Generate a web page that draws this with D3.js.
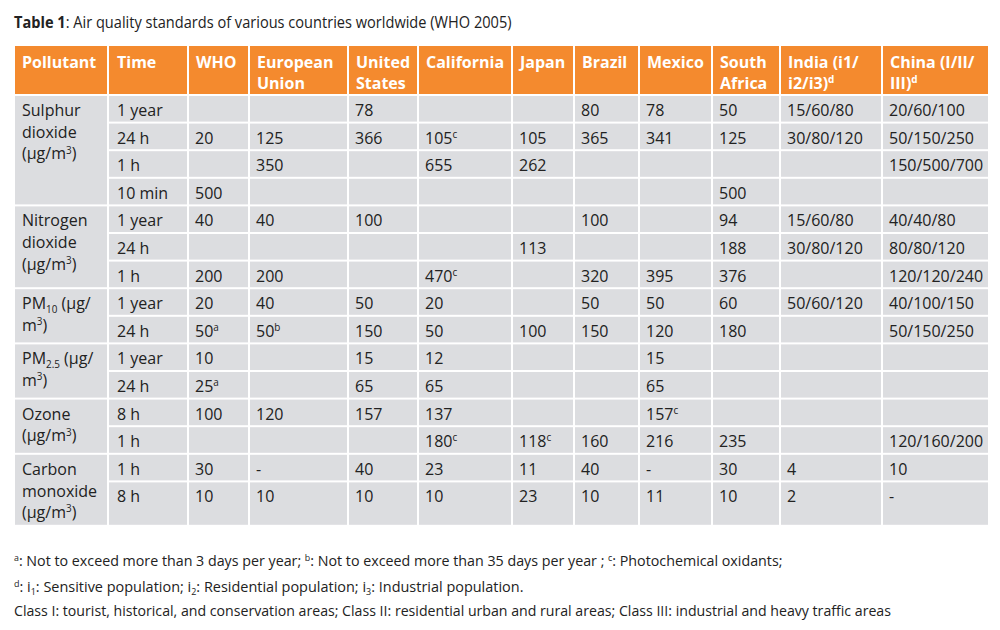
<!DOCTYPE html>
<html><head><meta charset="utf-8">
<script src="https://cdn.jsdelivr.net/npm/d3@7"></script>
<style>body{margin:0;background:#fff} svg{display:block}</style>
</head><body><svg id="c" width="1000" height="630"></svg>
<script>
// ---------- data ----------
const titleBold = "Table 1";
const titleRest = ": Air quality standards of various countries worldwide (WHO 2005)";
const headers = [["Pollutant"],["Time"],["WHO"],["European","Union"],["United","States"],["California"],["Japan"],["Brazil"],["Mexico"],["South","Africa"],["India (i1/","i2/i3)<sup>d</sup>"],["China (I/II/","III)<sup>d</sup>"]];
const pollutants = [["Sulphur","dioxide","(µg/m<sup>3</sup>)"],["Nitrogen","dioxide","(µg/m<sup>3</sup>)"],["PM<sub>10</sub> (µg/","m<sup>3</sup>)"],["PM<sub>2.5</sub> (µg/","m<sup>3</sup>)"],["Ozone","(µg/m<sup>3</sup>)"],["Carbon","monoxide","(µg/m<sup>3</sup>)"]];
const groupSizes = [4,3,2,2,2,2];
const times = ["1 year","24 h","1 h","10 min","1 year","24 h","1 h","1 year","24 h","1 year","24 h","8 h","1 h","1 h","8 h"];
const who = ["","20","","500","40","","200","20","50<sup>a</sup>","10","25<sup>a</sup>","100","","30","10"];
const eu = ["","125","350","","40","","200","40","50<sup>b</sup>","","","120","","-","10"];
const us = ["78","366","","","100","","","50","150","15","65","157","","40","10"];
const california = ["","105<sup>c</sup>","655","","","","470<sup>c</sup>","20","50","12","65","137","180<sup>c</sup>","23","10"];
const japan = ["","105","262","","","113","","","100","","","","118<sup>c</sup>","11","23"];
const brazil = ["80","365","","","100","","320","50","150","","","","160","40","10"];
const mexico = ["78","341","","","","","395","50","120","15","65","157<sup>c</sup>","216","-","11"];
const southAfrica = ["50","125","","500","94","188","376","60","180","","","","235","30","10"];
const india = ["15/60/80","30/80/120","","","15/60/80","30/80/120","","50/60/120","","","","","","4","2"];
const china = ["20/60/100","50/150/250","150/500/700","","40/40/80","80/80/120","120/120/240","40/100/150","50/150/250","","","","120/160/200","10","-"];
const footnotes = [
  "<sup>a</sup>: Not to exceed more than 3 days per year; <sup>b</sup>: Not to exceed more than 35 days per year ; <sup>c</sup>: Photochemical oxidants;",
  "<sup>d</sup>: i<sub>1</sub>: Sensitive population; i<sub>2</sub>: Residential population; i<sub>3</sub>: Industrial population.",
  "Class I: tourist, historical, and conservation areas; Class II: residential urban and rural areas; Class III: industrial and heavy traffic areas"
];

// ---------- layout ----------
const valueCols = [who, eu, us, california, japan, brazil, mexico, southAfrica, india, china];
const colWidths = [94,80,61,99,70,94,62,65,73,68,102,107];
const left = 14, headerTop = 46, headerH = 49, rowH = 27.6;
const orange = "#f48a2e", gray = "#dcdde0", ink = "#222222";
const font = "'Open Sans', sans-serif";
const fs = 16;

const starts = d3.cumsum([0, ...colWidths]).map(v => v + left);
const x = d3.scaleOrdinal().domain(d3.range(colWidths.length)).range(starts);
const wOf = i => colWidths[i];

// row heights: last row of a group stretches to fit pollutant label
const rowHeights = [];
groupSizes.forEach((n, g) => {
  const need = 21 + (pollutants[g].length - 1) * 21.7 + 7.6;
  for (let k = 0; k < n; k++) {
    let h = rowH;
    if (k === n - 1) h = Math.max(rowH, need - rowH * (n - 1));
    rowHeights.push(h);
  }
});
const rowTops = d3.cumsum([0, ...rowHeights]).map(v => v + headerTop + headerH);
const y = d3.scaleOrdinal().domain(d3.range(times.length + 1)).range(rowTops);

const svg = d3.select("#c").style("font-family", font);

function rich(sel, str, size) {
  const parts = str.split(/(<su[bp]>.*?<\/su[bp]>)/).filter(s => s.length);
  let shift = 0;
  parts.forEach(p => {
    const m = p.match(/^<(su[bp])>(.*)<\/su[bp]>$/);
    const t = sel.append("tspan");
    if (m) {
      const d = m[1] === "sup" ? -size * 0.36 : size * 0.22;
      t.attr("dy", d - shift).attr("font-size", size * 0.62).text(m[2]);
      shift = d;
    } else {
      t.attr("dy", -shift).text(p);
      shift = 0;
    }
  });
  return sel;
}

// title
const title = svg.append("text").attr("x", 0).attr("y", 0).attr("fill", ink).attr("font-size", 16.5);
title.append("tspan").attr("font-weight", "bold").text(titleBold);
title.append("tspan").text(titleRest);
{
  const w = title.node().getComputedTextLength();
  title.attr("transform", `translate(${left},28) scale(${498 / w},1)`);
}

// header
const hdr = svg.append("g");
headers.forEach((lines, i) => {
  hdr.append("rect").attr("x", x(i) + 1).attr("y", headerTop).attr("width", wOf(i) - 2).attr("height", headerH - 1).attr("fill", orange);
  lines.forEach((ln, j) => {
    const t = hdr.append("text").attr("x", x(i) + (i === 1 ? 9 : 8)).attr("y", headerTop + 22 + j * 21)
      .attr("fill", "#fff").attr("font-weight", "bold").attr("font-size", fs);
    rich(t, ln, fs);
  });
});

// body
const body = svg.append("g");
let r0 = 0;
groupSizes.forEach((n, g) => {
  const top = y(r0), bot = y(r0 + n);
  body.append("rect").attr("x", x(0) + 1).attr("y", top + 1).attr("width", wOf(0) - 2).attr("height", bot - top - 2).attr("fill", gray);
  pollutants[g].forEach((ln, j) => {
    const t = body.append("text").attr("x", x(0) + 8).attr("y", top + 21 + j * 21.7).attr("fill", ink).attr("font-size", fs);
    rich(t, ln, fs);
  });
  r0 += n;
});
const cols = [times, ...valueCols];
times.forEach((_, r) => {
  cols.forEach((arr, c) => {
    const ci = c + 1;
    body.append("rect").attr("x", x(ci) + 1).attr("y", y(r) + 1).attr("width", wOf(ci) - 2).attr("height", y(r + 1) - y(r) - 2).attr("fill", gray);
    if (arr[r]) {
      const t = body.append("text").attr("x", x(ci) + (ci === 1 ? 9 : 7)).attr("y", y(r) + 21).attr("fill", ink).attr("font-size", fs);
      rich(t, arr[r], fs);
    }
  });
});

// footnotes
const fnEnds = [783, 524, 892];
const fnBase = [566, 592, 616];
footnotes.forEach((f, i) => {
  const t = svg.append("text").attr("x", 0).attr("y", 0).attr("fill", ink).attr("font-size", 14.5);
  rich(t, f, 14.5);
  const w = t.node().getComputedTextLength();
  t.attr("transform", `translate(${left},${fnBase[i]}) scale(${(fnEnds[i] - left) / w},1)`);
});
</script></body></html>
